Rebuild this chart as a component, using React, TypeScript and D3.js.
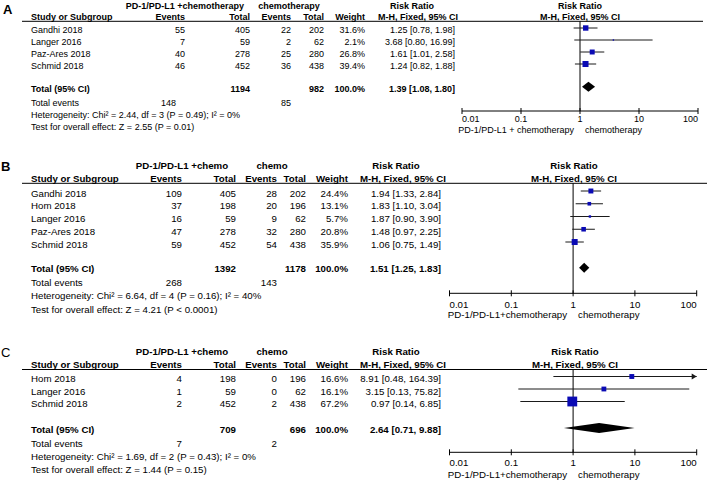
import React, { useRef, useEffect } from 'react';
import * as d3 from 'd3';

// Panel A
const studiesA = ['Gandhi 2018', 'Langer 2016', 'Paz-Ares 2018', 'Schmid 2018'];
const expEventsA = [55, 7, 40, 46];
const expTotalA = [405, 59, 278, 452];
const ctrlEventsA = [22, 2, 25, 36];
const ctrlTotalA = [202, 62, 280, 438];
const weightA = [31.6, 2.1, 26.8, 39.4];
const rrA = [1.25, 3.68, 1.61, 1.24];
const lowA = [0.78, 0.8, 1.01, 0.82];
const highA = [1.98, 16.99, 2.58, 1.88];
const pooledA = [1.39, 1.08, 1.8];
const totalsA = [1194, 982];
const eventTotalsA = [148, 85];

// Panel B
const studiesB = ['Gandhi 2018', 'Hom 2018', 'Langer 2016', 'Paz-Ares 2018', 'Schmid 2018'];
const expEventsB = [109, 37, 16, 47, 59];
const expTotalB = [405, 198, 59, 278, 452];
const ctrlEventsB = [28, 20, 9, 32, 54];
const ctrlTotalB = [202, 196, 62, 280, 438];
const weightB = [24.4, 13.1, 5.7, 20.8, 35.9];
const rrB = [1.94, 1.83, 1.87, 1.48, 1.06];
const lowB = [1.33, 1.1, 0.9, 0.97, 0.75];
const highB = [2.84, 3.04, 3.9, 2.25, 1.49];
const pooledB = [1.51, 1.25, 1.83];
const totalsB = [1392, 1178];
const eventTotalsB = [268, 143];

// Panel C
const studiesC = ['Hom 2018', 'Langer 2016', 'Schmid 2018'];
const expEventsC = [4, 1, 2];
const expTotalC = [198, 59, 452];
const ctrlEventsC = [0, 0, 2];
const ctrlTotalC = [196, 62, 438];
const weightC = [16.6, 16.1, 67.2];
const rrC = [8.91, 3.15, 0.97];
const lowC = [0.48, 0.13, 0.14];
const highC = [164.39, 75.82, 6.85];
const pooledC = [2.64, 0.71, 9.88];
const totalsC = [709, 696];
const eventTotalsC = [7, 2];

const tickValues = [0.01, 0.1, 1, 10, 100];
const tickLabels = ['0.01', '0.1', '1', '10', '100'];

const FONT = "'Liberation Sans', Arial, Helvetica, sans-serif";
const BLUE = '#0a0ab4';

interface PanelData {
    letter: string;
    expLabel: string;
    ctrlLabel: string;
    footerLeft: string;
    footerRight: string;
    studies: string[];
    expEvents: number[];
    expTotal: number[];
    ctrlEvents: number[];
    ctrlTotal: number[];
    weight: number[];
    rr: number[];
    low: number[];
    high: number[];
    pooled: number[];
    totals: number[];
    eventTotals: number[];
    heterogeneity: string;
    overall: string;
}

interface PanelLayout {
    font: number;
    letterX: number; letterY: number; letterBold: boolean;
    head1Y: number; head2Y: number; lineY: number; lineX2: number;
    study: number; expEv: number; expTot: number; ctrlEv: number; ctrlTot: number; weightX: number; rrX: number;
    expCenter: number; ctrlCenter: number; rrHead1X: number; rrHead2X: number; plotHeadX: number;
    rowY0: number; rowStep: number; totalY: number; eventsY: number; hetY: number; testY: number;
    eventsExpX: number;
    x0: number; x1: number; axisY: number; tickY: number; footerY: number;
    sqOff: number; diaOff: number; sqMax: number;
}

const panels: { data: PanelData; layout: PanelLayout }[] = [
    {
        data: {
            letter: 'A', expLabel: 'PD-1/PD-L1 +chemotherapy', ctrlLabel: 'chemotherapy',
            footerLeft: 'PD-1/PD-L1 + chemotherapy', footerRight: 'chemotherapy',
            studies: studiesA, expEvents: expEventsA, expTotal: expTotalA, ctrlEvents: ctrlEventsA,
            ctrlTotal: ctrlTotalA, weight: weightA, rr: rrA, low: lowA, high: highA,
            pooled: pooledA, totals: totalsA, eventTotals: eventTotalsA,
            heterogeneity: 'Heterogeneity: Chi² = 2.44, df = 3 (P = 0.49); I² = 0%',
            overall: 'Test for overall effect: Z = 2.55 (P = 0.01)',
        },
        layout: {
            font: 9, letterX: 3, letterY: 13.5, letterBold: true,
            head1Y: 9, head2Y: 19.5, lineY: 21.3, lineX2: 703,
            study: 31, expEv: 185, expTot: 250, ctrlEv: 291, ctrlTot: 324, weightX: 365, rrX: 455,
            expCenter: 185, ctrlCenter: 289, rrHead1X: 412, rrHead2X: 418, plotHeadX: 580,
            rowY0: 32.5, rowStep: 12, totalY: 91.5, eventsY: 106, hetY: 117.5, testY: 130,
            eventsExpX: 176,
            x0: 462, x1: 698, axisY: 111, tickY: 122, footerY: 132.5,
            sqOff: 4.5, diaOff: 4.8, sqMax: 9.6,
        },
    },
    {
        data: {
            letter: 'B', expLabel: 'PD-1/PD-L1 +chemo', ctrlLabel: 'chemo',
            footerLeft: 'PD-1/PD-L1+chemotherapy', footerRight: 'chemotherapy',
            studies: studiesB, expEvents: expEventsB, expTotal: expTotalB, ctrlEvents: ctrlEventsB,
            ctrlTotal: ctrlTotalB, weight: weightB, rr: rrB, low: lowB, high: highB,
            pooled: pooledB, totals: totalsB, eventTotals: eventTotalsB,
            heterogeneity: 'Heterogeneity: Chi² = 6.64, df = 4 (P = 0.16); I² = 40%',
            overall: 'Test for overall effect: Z = 4.21 (P < 0.0001)',
        },
        layout: {
            font: 9.7, letterX: 1, letterY: 170.5, letterBold: true,
            head1Y: 169, head2Y: 181.7, lineY: 183.3, lineX2: 707,
            study: 31, expEv: 182, expTot: 236, ctrlEv: 277, ctrlTot: 306, weightX: 348, rrX: 441,
            expCenter: 182, ctrlCenter: 272, rrHead1X: 396, rrHead2X: 403, plotHeadX: 574,
            rowY0: 196.5, rowStep: 12.75, totalY: 272, eventsY: 286, hetY: 299, testY: 312.5,
            eventsExpX: 182,
            x0: 449.5, x1: 696.7, axisY: 293.3, tickY: 307.5, footerY: 318,
            sqOff: 5.5, diaOff: 4.2, sqMax: 10,
        },
    },
    {
        data: {
            letter: 'C', expLabel: 'PD-1/PD-L1 +chemo', ctrlLabel: 'chemo',
            footerLeft: 'PD-1/PD-L1+chemotherapy', footerRight: 'chemotherapy',
            studies: studiesC, expEvents: expEventsC, expTotal: expTotalC, ctrlEvents: ctrlEventsC,
            ctrlTotal: ctrlTotalC, weight: weightC, rr: rrC, low: lowC, high: highC,
            pooled: pooledC, totals: totalsC, eventTotals: eventTotalsC,
            heterogeneity: 'Heterogeneity: Chi² = 1.69, df = 2 (P = 0.43); I² = 0%',
            overall: 'Test for overall effect: Z = 1.44 (P = 0.15)',
        },
        layout: {
            font: 9.7, letterX: 1, letterY: 356.5, letterBold: false,
            head1Y: 355, head2Y: 368, lineY: 369.5, lineX2: 707,
            study: 31, expEv: 182, expTot: 236, ctrlEv: 277, ctrlTot: 306, weightX: 348, rrX: 441,
            expCenter: 182, ctrlCenter: 272, rrHead1X: 396, rrHead2X: 403, plotHeadX: 575,
            rowY0: 382, rowStep: 12.5, totalY: 433, eventsY: 447, hetY: 459.5, testY: 472.5,
            eventsExpX: 182,
            x0: 449.5, x1: 696.7, axisY: 452.3, tickY: 465.7, footerY: 478,
            sqOff: 5.5, diaOff: 5, sqMax: 12,
        },
    },
];

const ciText = (r: number, lo: number, hi: number) => `${r.toFixed(2)} [${lo.toFixed(2)}, ${hi.toFixed(2)}]`;

function drawPanel(svg: d3.Selection<SVGSVGElement, unknown, null, undefined>, D: PanelData, L: PanelLayout) {
    const g = svg.append('g').style('font-family', FONT).style('font-size', `${L.font}px`).attr('fill', '#000');

    const txt = (x: number, y: number, s: string | number, anchor = 'start', bold = false) =>
        g.append('text')
            .attr('x', x)
            .attr('y', y)
            .attr('text-anchor', anchor)
            .style('font-weight', bold ? 'bold' : 'normal')
            .text(String(s));

    // panel letter
    txt(L.letterX, L.letterY, D.letter, 'start', L.letterBold).style('font-size', '13px');

    // headers
    txt(L.expCenter, L.head1Y, D.expLabel, 'middle', true);
    txt(L.ctrlCenter, L.head1Y, D.ctrlLabel, 'middle', true);
    txt(L.rrHead1X, L.head1Y, 'Risk Ratio', 'middle', true);
    txt(L.plotHeadX, L.head1Y, 'Risk Ratio', 'middle', true);

    txt(L.study, L.head2Y, 'Study or Subgroup', 'start', true);
    txt(L.expEv, L.head2Y, 'Events', 'end', true);
    txt(L.expTot, L.head2Y, 'Total', 'end', true);
    txt(L.ctrlEv, L.head2Y, 'Events', 'end', true);
    txt(L.ctrlTot, L.head2Y, 'Total', 'end', true);
    txt(L.weightX, L.head2Y, 'Weight', 'end', true);
    txt(L.rrHead2X, L.head2Y, 'M-H, Fixed, 95% CI', 'middle', true);
    txt(L.plotHeadX, L.head2Y, 'M-H, Fixed, 95% CI', 'middle', true);

    g.append('line')
        .attr('x1', 22).attr('x2', L.lineX2)
        .attr('y1', L.lineY).attr('y2', L.lineY)
        .attr('stroke', '#000').attr('stroke-width', 1);

    // study rows
    const rowY = (i: number) => L.rowY0 + L.rowStep * i;
    D.studies.forEach((s, i) => {
        const y = rowY(i);
        txt(L.study, y, s);
        txt(L.expEv, y, D.expEvents[i], 'end');
        txt(L.expTot, y, D.expTotal[i], 'end');
        txt(L.ctrlEv, y, D.ctrlEvents[i], 'end');
        txt(L.ctrlTot, y, D.ctrlTotal[i], 'end');
        txt(L.weightX, y, `${D.weight[i].toFixed(1)}%`, 'end');
        txt(L.rrX, y, ciText(D.rr[i], D.low[i], D.high[i]), 'end');
    });

    // totals
    txt(L.study, L.totalY, 'Total (95% CI)', 'start', true);
    txt(L.expTot, L.totalY, D.totals[0], 'end', true);
    txt(L.ctrlTot, L.totalY, D.totals[1], 'end', true);
    txt(L.weightX, L.totalY, '100.0%', 'end', true);
    txt(L.rrX, L.totalY, ciText(D.pooled[0], D.pooled[1], D.pooled[2]), 'end', true);

    txt(L.study, L.eventsY, 'Total events');
    txt(L.eventsExpX, L.eventsY, D.eventTotals[0], 'end');
    txt(L.ctrlEv, L.eventsY, D.eventTotals[1], 'end');
    txt(L.study, L.hetY, D.heterogeneity);
    txt(L.study, L.testY, D.overall);

    // forest plot
    const x = d3.scaleLog().domain([0.01, 100]).range([L.x0, L.x1]);
    const size = d3.scaleSqrt().domain([0, 100]).range([0, L.sqMax]);
    const clamp = (v: number) => Math.max(0.01, Math.min(100, v));

    g.append('line')
        .attr('x1', x(1)).attr('x2', x(1))
        .attr('y1', L.lineY).attr('y2', L.axisY)
        .attr('stroke', '#000').attr('stroke-width', 1);

    D.studies.forEach((_, i) => {
        const y = rowY(i) - L.sqOff;
        g.append('line')
            .attr('x1', x(clamp(D.low[i]))).attr('x2', x(clamp(D.high[i])))
            .attr('y1', y).attr('y2', y)
            .attr('stroke', '#1a1a1a').attr('stroke-width', 1);
        if (D.high[i] > 100) {
            const xe = x(100);
            g.append('path')
                .attr('d', `M${xe},${y} L${xe - 5},${y - 3} L${xe - 5},${y + 3} Z`)
                .attr('fill', '#1a1a1a');
        }
        const s = size(D.weight[i]);
        g.append('rect')
            .attr('x', x(D.rr[i]) - s / 2).attr('y', y - s / 2)
            .attr('width', s).attr('height', s)
            .attr('fill', BLUE);
    });

    const dy = L.totalY - L.diaOff;
    const diamond = d3.line<[number, number]>()([
        [x(D.pooled[1]), dy],
        [x(D.pooled[0]), dy - 5],
        [x(D.pooled[2]), dy],
        [x(D.pooled[0]), dy + 5],
    ]);
    g.append('path').attr('d', `${diamond}Z`).attr('fill', '#000');

    // axis
    g.append('line')
        .attr('x1', x(0.01)).attr('x2', x(100))
        .attr('y1', L.axisY).attr('y2', L.axisY)
        .attr('stroke', '#000').attr('stroke-width', 1);
    tickValues.forEach((t, i) => {
        g.append('line')
            .attr('x1', x(t)).attr('x2', x(t))
            .attr('y1', L.axisY - 3).attr('y2', L.axisY + 3)
            .attr('stroke', '#000').attr('stroke-width', 1);
        const anchor = i === 0 ? 'start' : i === tickValues.length - 1 ? 'end' : 'middle';
        txt(x(t), L.tickY, tickLabels[i], anchor);
    });
    txt(x(1) - 6, L.footerY, D.footerLeft, 'end');
    txt(x(1) + 5, L.footerY, D.footerRight, 'start');
}

const App: React.FC = () => {
    const svgRef = useRef<SVGSVGElement | null>(null);

    useEffect(() => {
        const svg = d3.select(svgRef.current as SVGSVGElement);
        svg.selectAll('*').remove();
        svg.append('rect').attr('width', 708).attr('height', 482).attr('fill', '#fff');
        panels.forEach(p => drawPanel(svg, p.data, p.layout));
    }, []);

    return (
        <svg
            ref={svgRef}
            width={708}
            height={482}
            style={{ position: 'absolute', left: 0, top: 0, background: '#fff' }}
        />
    );
};

export default App;
